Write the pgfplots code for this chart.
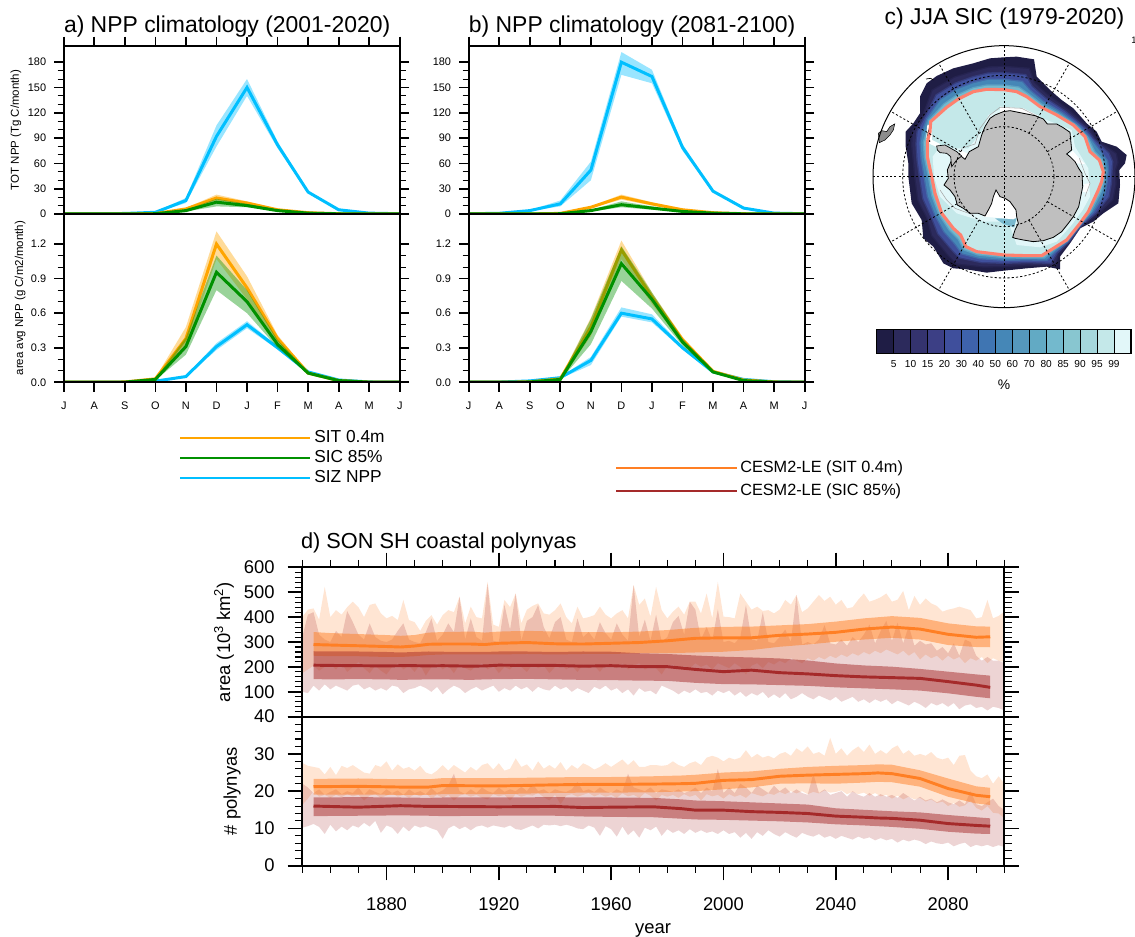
\documentclass[border=0pt]{standalone}
\usepackage{pgfplots}
\usepackage{pgfplotstable}
\usepackage{fontspec}
\setmainfont{Liberation Sans}
\pgfplotsset{compat=1.18}
\usepgfplotslibrary{fillbetween}
\definecolor{sit}{RGB}{255,165,0}
\definecolor{sic}{RGB}{0,145,0}
\definecolor{siz}{RGB}{0,191,255}
\definecolor{co}{RGB}{255,127,36}
\definecolor{cr}{RGB}{165,42,42}
\definecolor{salm}{RGB}{255,128,110}
\definecolor{cb1}{HTML}{1F1D45}\definecolor{cb2}{HTML}{2C2A5C}\definecolor{cb3}{HTML}{34336E}
\definecolor{cb4}{HTML}{3C3F85}\definecolor{cb5}{HTML}{3F4F9C}\definecolor{cb6}{HTML}{3E62AB}
\definecolor{cb7}{HTML}{3F75B2}\definecolor{cb8}{HTML}{4587B7}\definecolor{cb9}{HTML}{5598BD}
\definecolor{cb10}{HTML}{62AAC4}\definecolor{cb11}{HTML}{73B9CD}\definecolor{cb12}{HTML}{88C6D0}
\definecolor{cb13}{HTML}{A5D7DC}\definecolor{cb14}{HTML}{C4E8E9}\definecolor{cb15}{HTML}{E2F7F9}
\tikzset{griddash/.style={black,line width=.6pt,dash pattern=on 1.6pt off 1.6pt}}
\newcommand\fs[1]{\fontsize{#1}{#1}\selectfont}
\newcommand\band[6]{%
 \addplot[draw=none,name path=#1a,forget plot] table[x index=0,y=#3]{#2};
 \addplot[draw=none,name path=#1b,forget plot] table[x index=0,y=#4]{#2};
 \addplot[#5,fill opacity=#6,forget plot] fill between[of=#1a and #1b];
}
\newcommand\nppplots[2]{%
 \band{z}{#1}{zh}{zl}{siz}{0.4}
 \addplot[siz,line width=2.25pt] table[x index=0,y=z]{#1};
 \band{i}{#1}{ih}{il}{sit}{0.4}
 \addplot[sit,line width=2.25pt] table[x index=0,y=i]{#1};
 \addplot[fill=sic,fill opacity=.4,draw=none] coordinates {#2} -- cycle;
 \addplot[sic,line width=2.25pt] table[x index=0,y=c]{#1};
}
% --------- panel a, upper
\pgfplotstableread{
m z zl zh i il ih c cl ch
0 0.3 0.2 0.4 0.0 0.0 0.0 0.0 0.0 0.0
1 0.3 0.2 0.4 0.0 0.0 0.0 0.0 0.0 0.0
2 0.6 0.4 0.8 0.1 0.0 0.2 0.0 0.0 0.1
3 2.0 1.5 2.5 0.5 0.3 0.7 0.3 0.2 0.4
4 16 13 19 6 5 7 4 3 5
5 92 80 105 19 16 23 14 9 18
6 150 140 160 13 11 15 10 8 12
7 82 78 86 5 4 6 4 3 5
8 26 25 27 1.5 1.2 1.8 1.0 0.8 1.2
9 5 4.5 5.5 0.3 0.2 0.4 0.2 0.1 0.3
10 1.0 0.8 1.2 0.0 0.0 0.1 0.0 0.0 0.0
11 0.3 0.2 0.4 0.0 0.0 0.0 0.0 0.0 0.0
}\tAu
\pgfplotstableread{
m z zl zh i il ih c cl ch
0 0.000 0.000 0.000 0.001 0.000 0.002 0.001 0.000 0.002
1 0.000 0.000 0.000 0.001 0.000 0.002 0.001 0.000 0.002
2 0.000 0.000 0.001 0.003 0.001 0.005 0.002 0.001 0.004
3 0.010 0.008 0.013 0.030 0.022 0.038 0.025 0.018 0.032
4 0.050 0.045 0.058 0.380 0.300 0.480 0.310 0.240 0.390
5 0.310 0.280 0.340 1.200 1.070 1.310 0.955 0.800 1.100
6 0.500 0.470 0.530 0.820 0.720 0.920 0.700 0.600 0.800
7 0.300 0.285 0.315 0.380 0.350 0.410 0.330 0.300 0.370
8 0.090 0.085 0.095 0.080 0.070 0.090 0.080 0.070 0.090
9 0.020 0.018 0.022 0.015 0.012 0.018 0.015 0.012 0.018
10 0.003 0.002 0.004 0.002 0.001 0.003 0.002 0.001 0.003
11 0.001 0.000 0.001 0.001 0.000 0.002 0.001 0.000 0.002
}\tAl
\pgfplotstableread{
m z zl zh i il ih c cl ch
0 0.3 0.2 0.4 0.0 0.0 0.0 0.0 0.0 0.0
1 0.8 0.6 1.0 0.0 0.0 0.0 0.0 0.0 0.0
2 4 3.5 4.5 0.1 0.0 0.2 0.0 0.0 0.1
3 12 9 16 0.7 0.5 0.9 0.3 0.2 0.4
4 52 40 62 8 7 9 4 3 5
5 180 165 192 20 17 23 11 8 15
6 163 155 171 12 10 14 7 5 9
7 79 75 83 5 4 6 3 2.5 3.5
8 27 26 28 1.5 1.2 1.8 1.0 0.8 1.2
9 7 6.5 7.5 0.3 0.2 0.4 0.2 0.1 0.3
10 1.0 0.8 1.2 0.0 0.0 0.1 0.0 0.0 0.0
11 0.3 0.2 0.4 0.0 0.0 0.0 0.0 0.0 0.0
}\tBu
\pgfplotstableread{
m z zl zh i il ih c cl ch
0 0.001 0.000 0.002 0.001 0.000 0.002 0.001 0.000 0.002
1 0.002 0.001 0.003 0.001 0.000 0.002 0.001 0.000 0.002
2 0.012 0.010 0.015 0.004 0.002 0.006 0.003 0.002 0.005
3 0.040 0.032 0.048 0.030 0.022 0.038 0.025 0.018 0.032
4 0.190 0.150 0.220 0.480 0.400 0.560 0.440 0.330 0.550
5 0.600 0.570 0.650 1.150 1.070 1.230 1.030 0.880 1.180
6 0.550 0.520 0.590 0.740 0.680 0.780 0.720 0.640 0.780
7 0.300 0.285 0.315 0.370 0.345 0.395 0.350 0.320 0.380
8 0.090 0.085 0.095 0.095 0.088 0.102 0.090 0.082 0.098
9 0.025 0.022 0.028 0.020 0.016 0.024 0.015 0.012 0.018
10 0.005 0.004 0.006 0.003 0.002 0.004 0.002 0.001 0.003
11 0.001 0.000 0.002 0.001 0.000 0.002 0.001 0.000 0.002
}\tBl
% --------- panel d: ensemble mean and spread
\pgfplotstableread{
y om ol oh rm rl rh
1854 290 245 340 207 151 263
1860 288 243 336 206 150 262
1870 285 243 332 205 151 262
1880 282 240 328 204 150 260
1885 280 240 325 205 148 258
1890 284 243 328 205 149 260
1895 291 248 338 204 150 262
1900 292 250 340 205 150 261
1910 292 250 342 203 148 260
1915 290 250 338 204 150 260
1920 295 250 342 207 151 262
1930 298 252 345 206 152 262
1940 293 250 342 206 150 260
1950 292 252 340 203 148 262
1960 295 252 339 205 147 261
1970 298 255 342 201 145 255
1980 305 255 348 201 144 252
1990 315 258 357 190 136 246
2000 317 261 361 181 131 241
2010 317 268 362 187 130 238
2020 327 281 367 177 127 234
2030 332 290 372 172 124 226
2040 339 301 382 165 118 214
2050 352 310 395 160 114 206
2060 360 317 404 157 110 201
2070 352 310 397 154 105 192
2080 331 288 375 141 94 181
2090 319 280 363 127 80 170
2095 321 279 362 118 74 165
}\tDum
\pgfplotstableread{
y om ol oh rm rl rh
1854 21.2 19.1 23.3 16.0 13.3 18.3
1870 21.3 19.1 23.4 15.7 13.4 18.4
1885 21.1 19.0 23.2 16.1 13.5 18.3
1895 21.1 19.0 23.2 15.9 13.4 18.2
1900 21.5 19.2 23.5 15.9 13.3 18.3
1920 21.4 19.2 23.5 15.8 13.4 18.3
1940 21.7 19.5 23.7 15.9 13.4 18.4
1950 21.8 19.6 23.8 15.6 13.2 18.3
1960 21.8 19.6 23.8 15.7 13.1 18.3
1975 21.9 19.7 24.0 15.8 13.0 18.2
1985 22.0 19.9 24.2 15.3 12.6 17.8
1990 22.1 20.0 24.4 14.9 12.4 17.5
2000 22.9 20.5 25.0 14.9 12.3 17.3
2010 23.1 21.0 25.3 14.5 12.1 17.0
2020 24.0 22.0 26.0 14.3 11.9 16.7
2030 24.3 22.1 26.5 14.0 11.6 16.4
2040 24.5 22.0 26.8 13.3 11.1 15.4
2050 24.7 22.3 27.0 13.0 10.8 15.0
2055 24.9 22.5 27.2 12.8 10.6 14.8
2060 24.7 22.4 27.1 12.7 10.4 14.6
2070 23.4 21.2 25.6 12.2 9.9 14.3
2080 20.7 18.5 23.4 11.3 9.1 13.6
2090 18.9 16.7 21.3 10.8 8.6 13.0
2095 18.5 16.3 20.9 10.6 8.5 12.7
}\tDlm
% --------- panel d: member envelopes
\pgfplotstableread{
y ohi olo rhi rlo
1850 400 175 320 100
1852 430 190 410 95
1854 435 205 420 125
1856 390 185 330 105
1858 522 200 310 130
1860 400 210 300 110
1862 428 190 345 125
1864 410 215 320 115
1866 440 180 425 105
1868 462 200 380 125
1870 440 220 330 130
1872 400 195 310 110
1874 449 175 375 120
1876 455 205 320 105
1878 415 185 305 115
1880 395 170 300 105
1882 405 200 310 125
1884 388 215 345 120
1886 469 190 375 95
1888 388 205 310 110
1890 380 180 300 115
1892 345 210 295 125
1894 385 165 340 115
1896 408 200 395 100
1898 370 215 305 120
1900 408 190 330 90
1902 428 205 375 110
1904 420 175 340 125
1906 482 210 482 115
1908 375 195 310 95
1910 442 185 395 110
1912 400 205 320 120
1914 395 215 305 105
1916 542 190 535 115
1918 370 205 305 125
1920 361 175 300 100
1922 469 200 450 115
1924 440 190 350 105
1926 495 215 495 125
1928 375 200 305 110
1930 430 180 385 120
1932 445 210 400 100
1934 455 195 449 120
1936 415 205 360 110
1938 410 175 315 105
1940 428 200 380 125
1942 455 215 400 110
1944 400 190 310 120
1946 375 205 300 100
1948 442 180 395 115
1950 395 210 320 105
1952 400 195 340 95
1954 408 205 310 120
1956 442 180 380 110
1958 410 210 335 125
1960 395 205 310 105
1962 415 195 375 115
1964 428 215 330 95
1966 395 190 305 110
1968 529 205 529 85
1970 449 215 320 115
1972 475 190 390 100
1974 402 200 305 105
1976 522 195 410 90
1978 428 170 300 125
1980 395 205 320 115
1982 422 210 380 105
1984 442 190 405 90
1986 410 205 330 105
1988 462 195 462 95
1990 462 215 430 110
1992 415 200 310 95
1994 495 210 360 100
1996 395 190 305 85
1998 542 215 432 105
2000 402 205 300 95
2002 400 195 305 105
2004 395 215 295 85
2006 495 200 320 100
2008 462 170 450 80
2010 430 205 310 95
2012 442 215 305 85
2014 425 195 420 100
2016 428 220 300 75
2018 415 210 295 90
2020 430 225 320 75
2022 469 215 350 95
2024 450 235 300 70
2026 489 225 489 80
2028 420 215 290 95
2030 435 235 300 80
2032 462 225 290 70
2034 489 240 310 85
2036 465 230 368 75
2038 482 245 295 65
2040 450 235 290 80
2042 469 250 310 60
2044 435 240 285 70
2046 440 255 320 80
2048 470 245 300 60
2050 495 260 330 70
2052 462 250 370 55
2054 470 265 295 70
2056 480 255 345 60
2058 495 270 385 70
2060 462 260 305 50
2062 470 250 378 65
2064 505 265 295 55
2066 428 245 365 45
2068 485 260 285 60
2070 449 230 305 50
2072 475 250 290 35
2074 455 235 295 55
2076 445 245 265 45
2078 422 225 280 55
2080 430 245 255 40
2082 435 230 295 55
2084 442 240 245 30
2086 435 215 310 45
2088 428 235 300 50
2090 395 225 245 35
2092 400 240 225 40
2094 469 215 240 25
2096 395 235 225 40
2098 405 225 225 35
2100 422 220 215 25
}\tDue
\pgfplotstableread{
y ohi olo rhi rlo
1850 27.6 16.3 22.0 10.2
1852 26.8 18.0 21.0 10.6
1854 26.5 20.0 19.5 11.2
1856 26.2 18.5 20.5 10.4
1858 24.5 19.0 19.0 8.5
1860 26.5 18.2 19.8 11.0
1862 24.3 19.0 20.5 9.2
1864 26.8 18.4 19.2 10.5
1866 26.2 19.2 20.0 9.5
1868 27.0 18.6 19.5 10.8
1870 26.0 19.0 21.0 10.2
1872 25.0 17.5 19.0 11.5
1874 24.7 18.8 20.5 10.5
1876 27.0 19.2 19.8 12.0
1878 26.5 18.2 19.2 8.8
1880 28.0 18.8 20.5 10.8
1882 25.5 19.5 19.5 10.2
1884 27.2 18.5 20.2 8.5
1886 26.0 19.0 19.0 10.5
1888 26.5 18.2 20.5 9.2
1890 25.5 19.2 19.5 10.8
1892 26.8 18.6 20.0 10.2
1894 25.0 19.4 19.2 10.6
1896 24.5 18.0 20.8 10.0
1898 25.5 19.0 19.5 9.5
1900 27.0 18.2 20.2 7.2
1902 25.5 19.0 21.5 10.0
1904 27.0 17.5 24.7 10.8
1906 26.0 18.8 20.0 9.8
1908 25.0 19.2 19.2 10.5
1910 26.5 18.5 20.5 9.5
1912 25.5 19.0 19.5 10.5
1914 27.0 18.2 21.0 10.8
1916 27.5 17.8 20.0 10.2
1918 25.8 19.2 19.5 10.8
1920 27.5 18.6 21.0 10.5
1922 25.5 19.0 19.8 10.2
1924 26.0 17.5 20.5 10.8
1926 28.8 19.2 20.0 9.8
1928 26.5 18.5 21.2 9.6
1930 27.2 19.0 20.0 10.2
1932 25.5 18.8 22.0 10.8
1934 28.0 19.5 20.0 10.0
1936 26.0 18.4 20.5 11.0
1938 27.0 17.5 19.5 10.8
1940 26.0 19.0 20.5 11.0
1942 27.8 16.5 20.0 10.6
1944 25.5 18.8 19.8 11.0
1946 27.0 19.2 20.5 10.6
1948 26.0 18.5 22.5 10.0
1950 27.5 19.0 20.0 9.8
1952 26.8 19.5 20.5 10.8
1954 25.8 18.6 19.8 10.2
1956 26.5 19.2 21.0 8.0
1958 27.5 18.5 20.0 10.6
1960 26.5 19.0 19.5 9.8
1962 27.5 18.2 20.5 7.8
1964 28.5 19.4 19.8 10.5
1966 27.0 18.6 24.7 8.2
1968 28.3 19.0 21.0 9.5
1970 26.5 18.2 20.5 7.5
1972 26.5 19.5 20.0 10.2
1974 27.0 18.8 21.0 9.5
1976 27.0 17.5 19.5 10.5
1978 26.8 19.0 20.5 8.0
1980 27.0 18.5 20.2 9.8
1982 28.0 19.0 19.8 8.8
1984 27.0 18.2 20.5 9.5
1986 26.5 19.2 19.5 8.5
1988 27.5 18.5 20.0 9.8
1990 28.0 19.0 21.0 8.8
1992 27.0 17.5 19.5 9.5
1994 29.0 19.2 21.0 8.8
1996 29.5 18.6 20.0 9.2
1998 29.0 19.0 26.0 8.5
2000 28.0 18.0 19.5 9.5
2002 29.0 19.2 21.0 8.5
2004 28.5 18.5 19.5 9.0
2006 29.0 19.0 22.0 7.5
2008 31.0 18.2 21.0 8.8
2010 29.0 19.5 19.5 7.2
2012 30.0 19.0 21.5 9.0
2014 29.0 18.6 20.5 8.0
2016 29.5 19.4 19.5 9.5
2018 28.8 19.0 21.5 8.5
2020 30.0 19.8 20.0 7.8
2022 30.5 19.2 21.0 9.0
2024 29.5 20.0 19.5 8.2
2026 31.5 19.4 20.5 7.5
2028 30.5 20.0 19.5 8.8
2030 32.0 19.2 19.0 8.2
2032 30.0 19.8 24.7 7.8
2034 30.5 19.4 19.5 8.5
2036 29.5 20.2 20.5 7.5
2038 34.3 19.6 19.0 8.0
2040 30.0 19.8 19.5 7.2
2042 31.5 20.2 20.0 8.0
2044 29.5 19.2 18.5 7.5
2046 31.0 19.8 20.0 7.0
2048 32.0 19.2 19.0 7.8
2050 30.5 19.6 18.5 7.2
2052 32.5 18.8 19.5 7.6
2054 30.0 19.5 18.5 6.8
2056 31.0 18.6 19.2 7.4
2058 30.0 19.0 18.5 6.8
2060 31.5 18.0 19.0 7.2
2062 32.3 18.8 18.2 6.2
2064 30.0 17.8 19.5 7.0
2066 31.0 18.5 18.5 6.5
2068 29.5 17.8 17.5 7.0
2070 30.0 18.2 18.5 6.6
2072 29.5 17.2 17.5 5.8
2074 30.5 17.8 18.0 6.5
2076 29.0 16.8 17.0 6.0
2078 28.5 17.2 17.8 5.8
2080 29.0 16.0 17.0 6.2
2082 27.0 16.8 16.5 5.2
2084 29.5 15.8 17.5 5.8
2086 29.7 16.2 16.5 6.2
2088 25.5 17.5 20.0 5.0
2090 24.0 15.5 16.5 5.6
2092 23.5 14.8 16.0 5.2
2094 24.5 16.0 17.0 5.6
2096 22.0 14.2 18.0 5.0
2098 24.0 14.0 16.0 5.5
2100 22.0 12.7 15.0 5.0
}\tDle
\begin{document}
\begin{tikzpicture}
\pgfplotsset{
 every axis/.append style={scale only axis,axis line style={line width=1.4pt},
   tick align=outside,tick style={black},major tick style={line width=1.3pt},
   minor tick style={line width=.8pt},axis on top,clip=true},
 nppu/.style={width=252pt,height=126pt,xmin=0,xmax=11,ymin=0,ymax=199.2,
   xtick={0,1,...,11},xticklabels={},xtick pos=top,ytick pos=both,yticklabel pos=left,
   ytick={0,30,...,180},yticklabels={0,30,60,90,120,150,180},minor y tick num=2,
   major tick length=7pt,minor tick length=4.5pt,
   yticklabel style={font=\fs{8.2},inner sep=0pt},yticklabel shift=6pt,
   title style={font=\fs{17.2},inner sep=0pt,yshift=-6pt,at={(axis description cs:0,1.083)},anchor=base west}},
 nppl/.style={width=252pt,height=126.2pt,xmin=0,xmax=11,ymin=0,ymax=1.46,
   xtick={0,1,...,11},xticklabels={J,A,S,O,N,D,J,F,M,A,M,J},xtick pos=bottom,ytick pos=both,yticklabel pos=left,
   ytick={0,0.3,0.6,0.9,1.2},yticklabels={0.0,0.3,0.6,0.9,1.2},minor y tick num=2,
   major tick length=7pt,minor tick length=4.5pt,
   yticklabel style={font=\fs{8.2},inner sep=0pt},yticklabel shift=6pt,
   xticklabel style={font=\fs{8.2},inner sep=0pt},xticklabel shift=7.5pt},
 dcom/.style={width=526.5pt,xmin=1850,xmax=2100,xtick={1880,1920,1960,2000,2040,2080},
   minor xtick={1850,1860,...,2100},ytick pos=both,yticklabel pos=left,
   major tick length=11pt,minor tick length=5.5pt,
   yticklabel style={font=\fs{13.8},inner sep=0pt},yticklabel shift=9.6pt,
   xticklabel style={font=\fs{13.8},inner sep=0pt},xticklabel shift=13pt},
}
% panel a
\begin{axis}[nppu,at={(47.8pt,542.25pt)},title={a) NPP climatology (2001-2020)},
  ylabel={TOT NPP (Tg C/month)},ylabel style={font=\fs{8.6},at={(axis description cs:-0.142,0.5)},anchor=center,inner sep=0pt}]
\nppplots{\tAu}{(0,0)(1,0)(2,0.1)(3,0.4)(4,5)(5,18)(6,12)(7,5)(8,1.2)(9,0.3)(10,0)(11,0)(11,0)(10,0)(9,0.1)(8,0.8)(7,3)(6,8)(5,9)(4,3)(3,0.2)(2,0)(1,0)(0,0)}
\end{axis}
\begin{axis}[nppl,at={(47.8pt,416pt)},
  ylabel={area avg NPP (g C/m2/month)},ylabel style={font=\fs{8.6},at={(axis description cs:-0.130,0.5)},anchor=center,inner sep=0pt}]
\nppplots{\tAl}{(0,0.002)(1,0.002)(2,0.004)(3,0.032)(4,0.39)(5,1.1)(6,0.8)(7,0.37)(8,0.09)(9,0.018)(10,0.003)(11,0.002)(11,0)(10,0.001)(9,0.012)(8,0.07)(7,0.3)(6,0.6)(5,0.8)(4,0.24)(3,0.018)(2,0.001)(1,0)(0,0)}
\end{axis}
% panel b
\begin{axis}[nppu,at={(351.5pt,542.25pt)},title={b) NPP climatology (2081-2100)}]
\nppplots{\tBu}{(0,0)(1,0)(2,0.1)(3,0.4)(4,5)(5,15)(6,9)(7,3.5)(8,1.2)(9,0.3)(10,0)(11,0)(11,0)(10,0)(9,0.1)(8,0.8)(7,2.5)(6,5)(5,8)(4,3)(3,0.2)(2,0)(1,0)(0,0)}
\end{axis}
\begin{axis}[nppl,at={(351.5pt,416pt)}]
\nppplots{\tBl}{(0,0.002)(1,0.002)(2,0.005)(3,0.032)(4,0.55)(5,1.18)(6,0.78)(7,0.38)(8,0.098)(9,0.018)(10,0.003)(11,0.002)(11,0)(10,0.001)(9,0.012)(8,0.082)(7,0.32)(6,0.64)(5,0.88)(4,0.33)(3,0.018)(2,0.002)(1,0)(0,0)}
\end{axis}
% panel d
\begin{axis}[dcom,at={(226.7pt,165.2pt)},height=112.05pt,ymin=0,ymax=600,xticklabels={},xtick pos=top,
  ytick={0,100,...,600},yticklabels={,100,200,300,400,500,600},minor ytick={0,20,...,600},
  title={d) SON SH coastal polynyas},title style={font=\fs{16.3},inner sep=0pt,yshift=-6pt,at={(axis description cs:-0.002,1.127)},anchor=base west},
  ylabel={area (10$^{\mathrm{3}}$ km$^{\mathrm{2}}$)},ylabel style={font=\fs{13.8},at={(axis description cs:-0.1115,0.5)},anchor=center,inner sep=0pt}]
\band{p}{\tDue}{ohi}{olo}{co}{0.2}
\band{q}{\tDue}{rhi}{rlo}{cr}{0.2}
\band{r}{\tDum}{oh}{ol}{co}{0.5}
\band{s}{\tDum}{rh}{rl}{cr}{0.5}
\addplot[co,line width=2.2pt] table[x index=0,y=om]{\tDum};
\addplot[cr,line width=2.2pt] table[x index=0,y=rm]{\tDum};
\end{axis}
\begin{axis}[dcom,at={(226.7pt,53.5pt)},height=111.75pt,ymin=0,ymax=40,xtick pos=bottom,
  xticklabels={1880,1920,1960,2000,2040,2080},
  ytick={0,10,...,40},yticklabels={0,10,20,30,40},minor ytick={0,2,...,40},
  ylabel={\# polynyas},ylabel style={font=\fs{13.8},at={(axis description cs:-0.100,0.5)},anchor=center,inner sep=0pt}]
\band{p}{\tDle}{ohi}{olo}{co}{0.2}
\band{q}{\tDle}{rhi}{rlo}{cr}{0.2}
\band{r}{\tDlm}{oh}{ol}{co}{0.5}
\band{s}{\tDlm}{rh}{rl}{cr}{0.5}
\addplot[co,line width=2.2pt] table[x index=0,y=om]{\tDlm};
\addplot[cr,line width=2.2pt] table[x index=0,y=rm]{\tDlm};
\end{axis}
% panel c map, coordinates in 3x crop pixels
\begin{axis}[at={(630pt,402.75pt)},width=221.25pt,height=300pt,xmin=0,xmax=885,ymin=0,ymax=1200,y dir=reverse,hide axis,clip=false,axis on top=false]
\node[anchor=base west,inner sep=0pt,font=\fs{17.2}] at (axis cs:133,75) {c) JJA SIC (1979-2020)};
\addplot[fill=cb1,draw=none] coordinates {(492,172)(530,170)(582,178)(590,230)(630,270)(665,300)(700,325)(740,370)(770,395)(785,425)(830,440)(860,465)(855,490)(838,510)(840,555)(835,610)(790,640)(760,665)(720,685)(690,730)(660,770)(660,808)(620,800)(560,805)(492,812)(440,818)(380,808)(340,805)(310,790)(280,740)(250,715)(245,660)(215,610)(205,530)(205,490)(197,440)(197,395)(220,370)(240,340)(240,290)(260,250)(290,228)(340,205)(400,190)(450,175)} -- cycle;
\addplot[fill=cb2,draw=cb2,draw opacity=.5,line width=2pt] coordinates {(492,201)(566,207)(581,248)(621,285)(685,331)(749,389)(770,421)(827,462)(832,487)(824,511)(826,552)(817,598)(776,638)(720,680)(687,727)(654,762)(644,796)(560,794)(492,798)(431,799)(351,790)(326,765)(277,706)(263,654)(236,601)(226,530)(222,484)(217,436)(219,395)(250,348)(278,272)(345,233)(400,216)(447,203)} -- cycle;
\addplot[fill=cb5,draw=cb5,draw opacity=.5,line width=2pt] coordinates {(492,220)(556,226)(575,260)(615,295)(675,335)(735,385)(760,418)(805,460)(816,485)(814,512)(812,550)(805,590)(767,638)(720,678)(685,725)(650,758)(632,788)(560,786)(492,788)(425,786)(359,772)(336,748)(295,700)(275,650)(250,595)(240,530)(233,480)(230,432)(233,395)(256,352)(290,286)(347,251)(400,232)(445,221)} -- cycle;
\addplot[fill=cb8,draw=cb8,draw opacity=.5,line width=2pt] coordinates {(492,240)(546,246)(569,272)(609,305)(665,339)(721,381)(750,415)(783,458)(801,483)(804,513)(799,548)(793,582)(758,636)(720,675)(683,723)(646,753)(620,779)(560,778)(492,779)(419,774)(367,760)(346,731)(313,694)(287,646)(264,589)(254,530)(245,476)(242,429)(248,395)(262,357)(302,300)(350,269)(400,250)(443,240)} -- cycle;
\addplot[fill=cb11,draw=cb11,draw opacity=.5,line width=2pt] coordinates {(492,257)(536,263)(564,283)(604,314)(656,343)(708,377)(741,412)(763,456)(787,481)(796,514)(791,546)(782,575)(750,636)(720,672)(681,721)(642,748)(612,772)(560,772)(492,771)(414,763)(373,748)(356,716)(329,689)(298,642)(277,586)(267,530)(255,472)(252,427)(261,395)(268,362)(313,313)(353,286)(400,265)(441,257)} -- cycle;
% ice inside the contour
\addplot[fill=cb14,draw=none] coordinates {(492,269)(530,275)(560,290)(600,320)(650,345)(700,375)(735,410)(750,455)(778,480)(790,515)(785,545)(775,570)(745,635)(720,670)(680,720)(640,745)(605,767)(560,767)(492,765)(410,755)(378,740)(362,705)(340,685)(305,640)(285,580)(275,530)(262,470)(262,425)(270,395)(272,365)(320,322)(355,297)(400,275)(440,268)} -- cycle;
\addplot[fill=cb15,draw=none] coordinates {(425,395)(445,345)(480,328)(560,335)(625,362)(695,390)(705,440)(745,505)(750,590)(728,630)(695,675)(650,725)(600,742)(530,735)(505,665)(430,665)(350,640)(300,590)(282,530)(278,470)(300,440)(345,445)(385,445)} -- cycle;
\addplot[fill=cb10,draw=none,fill opacity=.8] coordinates {(465,655)(530,655)(522,682)(490,672)} -- cycle;
% patches without ice
\addplot[fill=white,draw=none] coordinates {(468,570)(480,590)(495,595)(510,605)(528,630)(532,650)(520,658)(490,655)(430,650)(445,630)(455,610)(460,590)} -- cycle;
\addplot[fill=white,draw=none] coordinates {(480,320)(550,325)(600,350)(480,342)} -- cycle;
\addplot[fill=white,draw=none] coordinates {(698,452)(720,478)(735,492)(705,490)(685,465)} -- cycle;
\addplot[fill=white,draw=none] coordinates {(732,552)(750,550)(742,578)(728,575)} -- cycle;
\addplot[fill=white,draw=none] coordinates {(262,375)(274,375)(276,420)(300,432)(292,442)(270,432)(258,420)} -- cycle;
\addplot[fill=white,draw=none] coordinates {(360,450)(385,462)(375,480)(355,465)} -- cycle;
\addplot[gray!70,line width=.4pt] coordinates {(365,445)(405,432)(420,385)(450,345)(480,322)(545,325)(590,348)};
\addplot[gray!70,line width=.4pt] coordinates {(300,570)(320,600)(345,625)(400,645)};
\addplot[gray!70,line width=.4pt] coordinates {(718,475)(735,520)(750,550)(735,590)};
% land
\addplot[fill=black!25,draw=black,line width=.6pt] coordinates {(375,478)(388,455)(415,440)(425,405)(435,380)(450,355)(465,345)(490,335)(510,332)(540,338)(560,342)(585,347)(610,357)(622,372)(650,372)(668,382)(690,397)(692,420)(695,450)(680,462)(690,470)(705,485)(716,505)(726,520)(728,560)(722,590)(716,620)(700,650)(685,670)(665,695)(640,712)(610,722)(580,725)(550,720)(525,715)(518,712)(525,690)(535,670)(530,650)(528,630)(510,605)(495,595)(480,590)(468,570)(460,590)(455,610)(445,630)(435,648)(415,640)(390,640)(370,625)(352,615)(345,590)(330,570)(312,555)(325,535)(322,510)(335,480)(355,462)} -- cycle;
\addplot[fill=black!25,draw=black,line width=.5pt] coordinates {(290,438)(315,435)(350,455)(365,468)(350,480)(335,500)(332,470)(320,460)(300,458)(292,450)} -- cycle;
\addplot[black,line width=.9pt] coordinates {(272,375)(266,395)(262,415)(270,425)};
\addplot[fill=black!45,draw=black,line width=.4pt] coordinates {(115,400)(125,392)(140,395)(150,380)(164,372)(160,390)(150,405)(135,420)(118,428)} -- cycle;
\addplot[black,line width=.5pt] coordinates {(258,237)(272,235)(280,240)};
% contour
\addplot[salm,line width=2.3pt] coordinates {(492,269)(530,275)(560,290)(600,320)(650,345)(700,375)(735,410)(750,455)(778,480)(790,515)(785,545)(775,570)(745,635)(720,670)(680,720)(640,745)(605,767)(560,767)(492,765)(410,755)(378,740)(362,705)(340,685)(305,640)(285,580)(275,530)(262,470)(262,425)(270,395)(272,365)(320,322)(355,297)(400,275)(440,268)(492,269)};
% grid
\addplot[griddash] coordinates {(492,137)(492,923)};
\addplot[griddash] coordinates {(99,530)(885,530)};
\addplot[griddash] coordinates {(622,455)(832,334)};
\addplot[griddash] coordinates {(567,400)(688,190)};
\addplot[griddash] coordinates {(417,400)(296,190)};
\addplot[griddash] coordinates {(362,455)(152,334)};
\addplot[griddash] coordinates {(362,605)(152,726)};
\addplot[griddash] coordinates {(417,660)(296,870)};
\addplot[griddash] coordinates {(567,660)(688,870)};
\addplot[griddash] coordinates {(622,605)(832,726)};
\draw[griddash] (axis cs:492,530) circle[radius=150];
\draw[griddash] (axis cs:492,530) circle[radius=304];
\draw[black,line width=.75pt] (axis cs:492,530) circle[radius=393];
\end{axis}
% colour bar
\begin{axis}[at={(657.5pt,438pt)},width=190.7pt,height=18pt,xmin=0,xmax=15,ymin=0,ymax=1,axis on top=false,
  ytick=\empty,xtick={1,2,...,14},xticklabels={5,10,15,20,30,40,50,60,70,80,85,90,95,99},
  major tick length=0pt,xticklabel style={font=\fs{7.6},inner sep=0pt},xticklabel shift=5.5pt,axis line style={line width=.6pt}]
\addplot[fill=cb1,draw=black,line width=.7pt] coordinates {(0,0)(1,0)(1,1)(0,1)} -- cycle;
\addplot[fill=cb2,draw=black,line width=.7pt] coordinates {(1,0)(2,0)(2,1)(1,1)} -- cycle;
\addplot[fill=cb3,draw=black,line width=.7pt] coordinates {(2,0)(3,0)(3,1)(2,1)} -- cycle;
\addplot[fill=cb4,draw=black,line width=.7pt] coordinates {(3,0)(4,0)(4,1)(3,1)} -- cycle;
\addplot[fill=cb5,draw=black,line width=.7pt] coordinates {(4,0)(5,0)(5,1)(4,1)} -- cycle;
\addplot[fill=cb6,draw=black,line width=.7pt] coordinates {(5,0)(6,0)(6,1)(5,1)} -- cycle;
\addplot[fill=cb7,draw=black,line width=.7pt] coordinates {(6,0)(7,0)(7,1)(6,1)} -- cycle;
\addplot[fill=cb8,draw=black,line width=.7pt] coordinates {(7,0)(8,0)(8,1)(7,1)} -- cycle;
\addplot[fill=cb9,draw=black,line width=.7pt] coordinates {(8,0)(9,0)(9,1)(8,1)} -- cycle;
\addplot[fill=cb10,draw=black,line width=.7pt] coordinates {(9,0)(10,0)(10,1)(9,1)} -- cycle;
\addplot[fill=cb11,draw=black,line width=.7pt] coordinates {(10,0)(11,0)(11,1)(10,1)} -- cycle;
\addplot[fill=cb12,draw=black,line width=.7pt] coordinates {(11,0)(12,0)(12,1)(11,1)} -- cycle;
\addplot[fill=cb13,draw=black,line width=.7pt] coordinates {(12,0)(13,0)(13,1)(12,1)} -- cycle;
\addplot[fill=cb14,draw=black,line width=.7pt] coordinates {(13,0)(14,0)(14,1)(13,1)} -- cycle;
\addplot[fill=cb15,draw=black,line width=.7pt] coordinates {(14,0)(15,0)(15,1)(14,1)} -- cycle;
\end{axis}
% overlay in image pixels: legends and loose labels
\begin{axis}[at={(0pt,0pt)},width=851.25pt,height=702.75pt,xmin=0,xmax=1135,ymin=0,ymax=937,y dir=reverse,hide axis,clip=false,axis on top=false]
\addplot[sit,line width=1.5pt] coordinates {(180,437.7)(310,437.7)};
\addplot[sic,line width=1.5pt] coordinates {(180,457.7)(310,457.7)};
\addplot[siz,line width=1.5pt] coordinates {(180,477.7)(310,477.7)};
\addplot[co,line width=1.5pt] coordinates {(616,468.3)(737,468.3)};
\addplot[cr,line width=1.5pt] coordinates {(616,491.3)(737,491.3)};
\node[anchor=base west,inner sep=0pt,font=\fs{13}] at (axis cs:314,443) {SIT 0.4m};
\node[anchor=base west,inner sep=0pt,font=\fs{13}] at (axis cs:314,463) {SIC 85\%};
\node[anchor=base west,inner sep=0pt,font=\fs{13}] at (axis cs:314,483) {SIZ NPP};
\node[anchor=base west,inner sep=0pt,font=\fs{12.2}] at (axis cs:740,473) {CESM2-LE (SIT 0.4m)};
\node[anchor=base west,inner sep=0pt,font=\fs{12.2}] at (axis cs:740,496) {CESM2-LE (SIC 85\%)};
\node[anchor=center,inner sep=0pt,font=\fs{10.4}] at (axis cs:1004,385) {\%};
\node[anchor=center,inner sep=0pt,font=\fs{7}] at (axis cs:1134,40) {1};
\node[anchor=base,inner sep=0pt,font=\fs{13.8}] at (axis cs:653,933) {year};
\end{axis}
\pgfresetboundingbox
\useasboundingbox (0,0) rectangle (851.25pt,702.75pt);
\end{tikzpicture}
\end{document}
